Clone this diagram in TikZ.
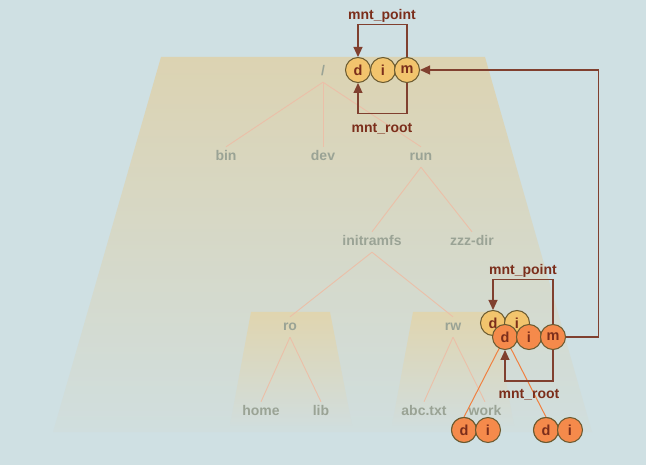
\documentclass[tikz,border=0pt]{standalone}
\usepackage{fontspec}
\setmainfont{Liberation Sans}
\usetikzlibrary{arrows.meta}
\definecolor{bg}{HTML}{CFE0E3}
\definecolor{trapTop}{HTML}{DCD3B2}
\definecolor{trapBot}{HTML}{D0DEDE}
\definecolor{smallTop}{HTML}{E0D5AF}
\definecolor{smallBot}{HTML}{D1DDDC}
\definecolor{treetext}{HTML}{9AA395}
\definecolor{treeedge}{HTML}{EBBFA8}
\definecolor{yel}{HTML}{F2C46D}
\definecolor{ora}{HTML}{F58A4B}
\definecolor{circborder}{HTML}{6A5A30}
\definecolor{brown}{HTML}{7B2E1B}
\definecolor{brownline}{HTML}{80402F}
\definecolor{oraline}{HTML}{F08040}
\tikzset{
  tree/.style={text=treetext, font=\bfseries\fontsize{14}{16}\selectfont, inner xsep=2pt, inner ysep=5pt, text height=9pt, text depth=1pt},
  tedge/.style={draw=treeedge, line width=0.9pt},
  circ/.style={circle, minimum size=25pt, inner sep=0pt, draw=circborder, line width=1pt, text=brown, font=\bfseries\fontsize{14.5}{16}\selectfont},
  yc/.style={circ, fill=yel},
  oc/.style={circ, fill=ora},
  mlabel/.style={text=brown, font=\bfseries\fontsize{14}{16}\selectfont},
  mline/.style={draw=brownline, line width=1.1pt},
  marrow/.style={mline, -{Triangle[length=10pt,width=9pt]}},
  oline/.style={draw=oraline, line width=1pt},
}
\begin{document}
\begin{tikzpicture}[x=1pt,y=-1pt]
\useasboundingbox (0,0) rectangle (646,465);
\fill[bg] (0,0) rectangle (646,465);
\shade[top color=trapTop, bottom color=trapBot] (161,57) -- (485,57) -- (592,432) -- (53,432) -- cycle;
\shade[top color=smallTop, bottom color=smallBot] (251,312) -- (330,312) -- (352,425) -- (230,425) -- cycle;
\shade[top color=smallTop, bottom color=smallBot] (413,312) -- (493,312) -- (514,425) -- (392,425) -- cycle;

% tree
\node[tree] (root) at (323,72) {/};
\node[tree] (bin) at (226,157) {bin};
\node[tree] (dev) at (323,157) {dev};
\node[tree] (run) at (421,157) {run};
\node[tree] (initramfs) at (372,242) {initramfs};
\node[tree] (zzz) at (472,242) {zzz-dir};
\node[tree] (ro) at (290,327) {ro};
\node[tree] (rw) at (453,327) {rw};
\node[tree] (home) at (261,412) {home};
\node[tree] (lib) at (321,412) {lib};
\node[tree] (abc) at (424,412) {abc.txt};
\node[tree] (work) at (485,412) {work};
\draw[tedge] (root.south) -- (bin.north);
\draw[tedge] (root.south) -- (dev.north);
\draw[tedge] (root.south) -- (run.north);
\draw[tedge] (run.south) -- (initramfs.north);
\draw[tedge] (run.south) -- (zzz.north);
\draw[tedge] (initramfs.south) -- (ro.north);
\draw[tedge] (initramfs.south) -- (rw.north);
\draw[tedge] (ro.south) -- (home.north);
\draw[tedge] (ro.south) -- (lib.north);
\draw[tedge] (rw.south) -- (abc.north);
\draw[tedge] (rw.south) -- (work.north);

% top dim
\node[yc] (d1) at (358,70) {d};
\node[yc] (i1) at (383,70) {i};
\node[yc] (m1) at (407,70) {m};
\node[mlabel] (mp1) at (382,16) {mnt\_point};
\node[mlabel] (mr1) at (382,129) {mnt\_root};
\draw[marrow] (m1.north) -- ++(0,-32.5) -| (d1.north);
\draw[marrow] (m1.south) -- ++(0,30.5) -| (d1.south);

% second group
\node[yc] (d2y) at (493,323) {d};
\node[yc] (i2y) at (517,323) {i};
\coordinate (d2c) at (505,337);
\node[circ] (d3) at (464,430) {};
\node[circ] (d4) at (546,430) {};
\draw[oline] (d2c) -- (d3.north);
\draw[oline] (d2c) -- (d4.north);
\node[oc] (d2) at (505,337) {d};
\node[oc] (i2) at (529,337) {i};
\node[oc] (m2) at (553,337) {m};
\node[oc] at (d3) {d};
\node[oc] (i3) at (488,430) {i};
\node[oc] at (d4) {d};
\node[oc] (i4) at (570,430) {i};
\node[mlabel] (mp2) at (523,271) {mnt\_point};
\node[mlabel] (mr2) at (529,395) {mnt\_root};
\draw[marrow] (m2.north) -- ++(0,-44.5) -| (d2y.north);
\draw[marrow] (m2.south) -- ++(0,31) -| (d2.south);
\draw[marrow] (m2.east) -- ++(32.5,0) |- (m1.east);
\end{tikzpicture}
\end{document}
